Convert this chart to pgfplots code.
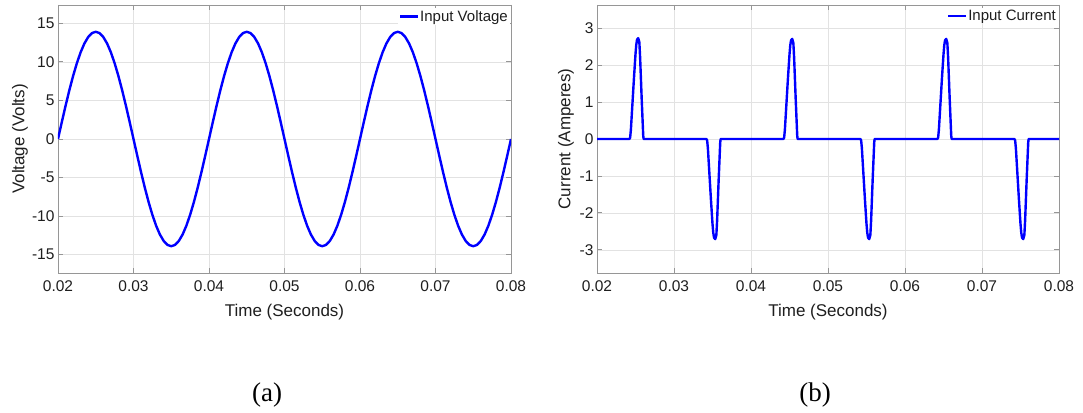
\documentclass[border=0pt]{standalone}
\usepackage{pgfplots}
\pgfplotsset{compat=1.18}
\usepackage{fontspec}
\setmainfont{Liberation Sans}
\newfontfamily\captionfont{Liberation Serif}

\definecolor{axisgray}{RGB}{150,150,150}
\definecolor{gridgray}{RGB}{226,226,226}
\definecolor{labelgray}{RGB}{30,30,30}

% Input voltage: 13.9 V peak, 50 Hz
\pgfplotstableread{
t v
0.0200 0
0.0205 2.174
0.0210 4.295
0.0215 6.311
0.0220 8.170
0.0225 9.829
0.0230 11.245
0.0235 12.385
0.0240 13.220
0.0245 13.729
0.0250 13.900
0.0255 13.729
0.0260 13.220
0.0265 12.385
0.0270 11.245
0.0275 9.829
0.0280 8.170
0.0285 6.311
0.0290 4.295
0.0295 2.174
0.0300 0
0.0305 -2.174
0.0310 -4.295
0.0315 -6.311
0.0320 -8.170
0.0325 -9.829
0.0330 -11.245
0.0335 -12.385
0.0340 -13.220
0.0345 -13.729
0.0350 -13.900
0.0355 -13.729
0.0360 -13.220
0.0365 -12.385
0.0370 -11.245
0.0375 -9.829
0.0380 -8.170
0.0385 -6.311
0.0390 -4.295
0.0395 -2.174
0.0400 0
0.0405 2.174
0.0410 4.295
0.0415 6.311
0.0420 8.170
0.0425 9.829
0.0430 11.245
0.0435 12.385
0.0440 13.220
0.0445 13.729
0.0450 13.900
0.0455 13.729
0.0460 13.220
0.0465 12.385
0.0470 11.245
0.0475 9.829
0.0480 8.170
0.0485 6.311
0.0490 4.295
0.0495 2.174
0.0500 0
0.0505 -2.174
0.0510 -4.295
0.0515 -6.311
0.0520 -8.170
0.0525 -9.829
0.0530 -11.245
0.0535 -12.385
0.0540 -13.220
0.0545 -13.729
0.0550 -13.900
0.0555 -13.729
0.0560 -13.220
0.0565 -12.385
0.0570 -11.245
0.0575 -9.829
0.0580 -8.170
0.0585 -6.311
0.0590 -4.295
0.0595 -2.174
0.0600 0
0.0605 2.174
0.0610 4.295
0.0615 6.311
0.0620 8.170
0.0625 9.829
0.0630 11.245
0.0635 12.385
0.0640 13.220
0.0645 13.729
0.0650 13.900
0.0655 13.729
0.0660 13.220
0.0665 12.385
0.0670 11.245
0.0675 9.829
0.0680 8.170
0.0685 6.311
0.0690 4.295
0.0695 2.174
0.0700 0
0.0705 -2.174
0.0710 -4.295
0.0715 -6.311
0.0720 -8.170
0.0725 -9.829
0.0730 -11.245
0.0735 -12.385
0.0740 -13.220
0.0745 -13.729
0.0750 -13.900
0.0755 -13.729
0.0760 -13.220
0.0765 -12.385
0.0770 -11.245
0.0775 -9.829
0.0780 -8.170
0.0785 -6.311
0.0790 -4.295
0.0795 -2.174
0.0800 0
}\voltage

% Input current: short charging pulses near each voltage peak
\pgfplotstableread{
t i
0.0200 0
0.0242 0
0.0243 0.03
0.0244 0.25
0.0246 0.95
0.0248 1.65
0.0250 2.30
0.0251 2.55
0.0252 2.69
0.02535 2.73
0.0255 2.62
0.0256 2.20
0.0258 1.10
0.0260 0.10
0.02605 0
0.0342 0
0.0343 -0.03
0.0344 -0.25
0.0346 -0.95
0.0348 -1.65
0.0350 -2.30
0.0351 -2.54
0.0352 -2.67
0.03535 -2.71
0.0355 -2.60
0.0356 -2.20
0.0358 -1.10
0.0360 -0.10
0.03605 0
0.0442 0
0.0443 0.03
0.0444 0.25
0.0446 0.95
0.0448 1.65
0.0450 2.29
0.0451 2.54
0.0452 2.67
0.04535 2.71
0.0455 2.60
0.0456 2.20
0.0458 1.10
0.0460 0.10
0.04605 0
0.0542 0
0.0543 -0.03
0.0544 -0.25
0.0546 -0.95
0.0548 -1.65
0.0550 -2.30
0.0551 -2.54
0.0552 -2.67
0.05535 -2.71
0.0555 -2.60
0.0556 -2.20
0.0558 -1.10
0.0560 -0.10
0.05605 0
0.0642 0
0.0643 0.03
0.0644 0.25
0.0646 0.95
0.0648 1.65
0.0650 2.29
0.0651 2.54
0.0652 2.67
0.06535 2.71
0.0655 2.60
0.0656 2.20
0.0658 1.10
0.0660 0.10
0.06605 0
0.0742 0
0.0743 -0.03
0.0744 -0.25
0.0746 -0.95
0.0748 -1.65
0.0750 -2.30
0.0751 -2.54
0.0752 -2.67
0.07535 -2.71
0.0755 -2.60
0.0756 -2.20
0.0758 -1.10
0.0760 -0.10
0.07605 0
0.0800 0
}\current

\pgfplotsset{
  matlab/.style={
    scale only axis,
    height=268pt,
    xmin=0.02, xmax=0.08,
    xtick={0.02,0.03,0.04,0.05,0.06,0.07,0.08},
    xticklabels={0.02,0.03,0.04,0.05,0.06,0.07,0.08},
    scaled x ticks=false,
    scaled y ticks=false,
    grid=major,
    major grid style={gridgray, line width=0.6pt},
    axis line style={axisgray, line width=0.8pt},
    tick align=inside,
    major tick length=5pt,
    major tick style={axisgray, line width=0.8pt},
    tick label style={font=\fontsize{15.5}{18}\selectfont, text=labelgray},
    xticklabel style={yshift=-4pt},
    label style={font=\fontsize{17}{20}\selectfont, text=labelgray},
    xlabel={Time (Seconds)},
    xlabel style={at={(axis description cs:0.5,0)}, anchor=center, yshift=-39pt},
    legend cell align=left,
    legend style={
      at={(rel axis cs:1,1)}, anchor=north east,
      xshift=-1pt, yshift=-3pt,
      draw=none, fill=white,
      inner sep=1pt,
      font=\fontsize{15}{17}\selectfont,
      text=labelgray,
      nodes={inner sep=1pt},
      /tikz/every odd column/.append style={column sep=0pt},
    },
    legend image code/.code={\draw[##1, line width=2.4pt] (0pt,0pt) -- (18pt,0pt);},
    every axis plot/.append style={no marks, line width=2.4pt, line join=round, color={rgb,255:red,0;green,0;blue,255}},
  },
}

\begin{document}
\begin{tikzpicture}[x=1pt, y=1pt]
\useasboundingbox (0,0) rectangle (1083,412);

% (a) input voltage
\begin{axis}[
  matlab,
  at={(58pt,139pt)}, anchor=south west,
  width=453pt,
  ymin=-17.37, ymax=17.37,
  ytick={-15,-10,-5,0,5,10,15},
  yticklabels={-15,-10,-5,0,5,10,15},
  ylabel={Voltage (Volts)},
  ylabel style={at={([xshift=-38pt]axis description cs:0,0.5)}, anchor=center},
]
\addplot table[x=t, y=v] {\voltage};
\addlegendentry{Input Voltage}
\end{axis}

% (b) input current
\begin{axis}[
  matlab,
  at={(597pt,139pt)}, anchor=south west,
  width=462pt,
  ymin=-3.627, ymax=3.627,
  ytick={-3,-2,-1,0,1,2,3},
  yticklabels={-3,-2,-1,0,1,2,3},
  ylabel={Current (Amperes)},
  ylabel style={at={([xshift=-31pt]axis description cs:0,0.5)}, anchor=center},
]
\addplot table[x=t, y=i] {\current};
\addlegendentry{Input Current}
\end{axis}

\node[font=\captionfont\fontsize{27}{30}\selectfont] at (267,17) {(a)};
\node[font=\captionfont\fontsize{27}{30}\selectfont] at (815,17) {(b)};
\end{tikzpicture}
\end{document}
